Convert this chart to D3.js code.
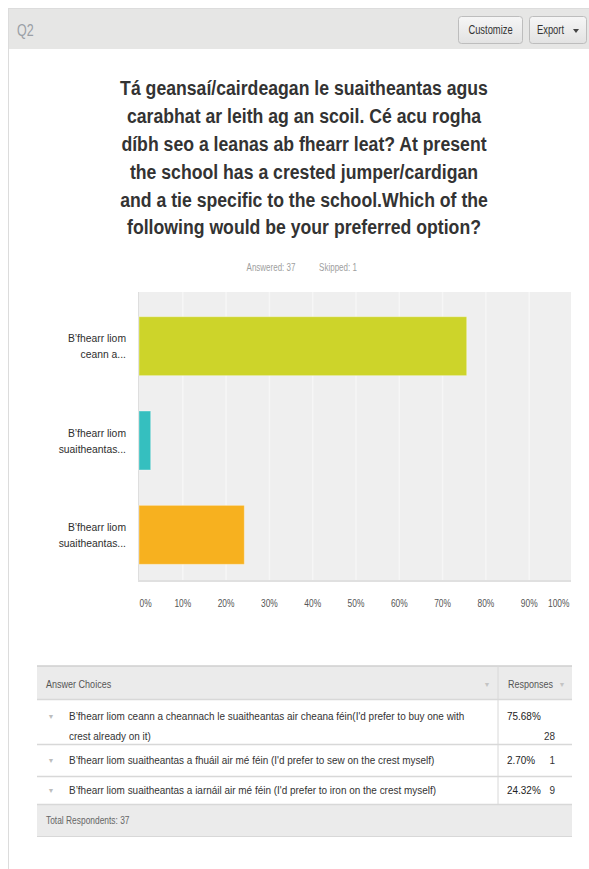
<!DOCTYPE html>
<html>
<head>
<meta charset="utf-8">
<script src="https://cdn.jsdelivr.net/npm/d3@7"></script>
<style>
body { margin: 0; background: #fff; }
text { font-family: "Liberation Sans", Arial, sans-serif; }
</style>
</head>
<body>
<div id="chart"></div>
<script>
const WIDTH = 589
const HEIGHT = 869
const SX = 0.8 // le rendu d'origine est un peu tasse en largeur

// donnees
const questionId = 'Q2'
const titleLines = [
    'Tá geansaí/cairdeagan le suaitheantas agus',
    'carabhat ar leith ag an scoil. Cé acu rogha',
    'díbh seo a leanas ab fhearr leat? At present',
    'the school has a crested jumper/cardigan',
    'and a tie specific to the school.Which of the',
    'following would be your preferred option?'
]
const answered = 37
const skipped = 1
const shortLabels = [
    ['B’fhearr liom', 'ceann a...'],
    ['B’fhearr liom', 'suaitheantas...'],
    ['B’fhearr liom', 'suaitheantas...']
]
const answerChoices = [
    'B’fhearr liom ceann a cheannach le suaitheantas air cheana féin(I\'d prefer to buy one with crest already on it)',
    'B’fhearr liom suaitheantas a fhuáil air mé féin (I\'d prefer to sew on the crest myself)',
    'B’fhearr liom suaitheantas a iarnáil air mé féin (I\'d prefer to iron on the crest myself)'
]
const percents = [75.68, 2.70, 24.32]
const counts = [28, 1, 9]
const tickValues = [0, 10, 20, 30, 40, 50, 60, 70, 80, 90, 100]
const totalRespondents = 37
const barColors = ['#cdd42a', '#35bfbf', '#f7b11f']

const svg = d3.select('#chart').append('svg')
    .attr('width', WIDTH).attr('height', HEIGHT)

function label(g, x, y, str, opts = {}) {
    return g.append('text')
        .attr('transform', `translate(${x},${y}) scale(${opts.sx || SX},1)`)
        .attr('text-anchor', opts.anchor || 'start')
        .attr('dy', '0.35em')
        .attr('font-size', opts.size || 11)
        .attr('font-weight', opts.weight || 'normal')
        .attr('fill', opts.color || '#333')
        .text(str)
}

// cadre du panneau + entete
svg.append('rect').attr('x', 8.5).attr('y', 8.5).attr('width', WIDTH + 10).attr('height', HEIGHT)
    .attr('fill', '#fff').attr('stroke', '#dcdcdc')
svg.append('rect').attr('x', 9).attr('y', 9).attr('width', WIDTH).attr('height', 40)
    .attr('fill', '#e6e6e5')
label(svg, 17, 30, questionId, { size: 16, color: '#9a9fa6', sx: 0.78 })

const grad = svg.append('defs').append('linearGradient').attr('id', 'btn')
    .attr('x1', 0).attr('y1', 0).attr('x2', 0).attr('y2', 1)
grad.append('stop').attr('offset', 0).attr('stop-color', '#f6f6f6')
grad.append('stop').attr('offset', 1).attr('stop-color', '#e2e2e2')

const buttons = [{ x: 458.5, w: 64, t: 'Customize' }, { x: 529.5, w: 57, t: 'Export' }]
buttons.forEach(b => {
    svg.append('rect').attr('x', b.x).attr('y', 16.5).attr('width', b.w).attr('height', 27)
        .attr('rx', 3).attr('fill', 'url(#btn)').attr('stroke', '#bdbdbd')
})
label(svg, 490.5, 30, 'Customize', { size: 12, anchor: 'middle', color: '#333', sx: 0.78 })
label(svg, 537, 30, 'Export', { size: 12, color: '#333', sx: 0.78 })
svg.append('path').attr('d', 'M573,29 l6,0 l-3,4 z').attr('fill', '#444')

// titre
const title = svg.append('g')
const probe = title.append('text').attr('font-size', 21).attr('font-weight', 'bold').text(titleLines[0])
const titleSx = 368 / probe.node().getComputedTextLength()
probe.remove()
titleLines.forEach((l, i) => {
    label(title, 304, 88 + i * 27.8, l, { size: 21, weight: 'bold', anchor: 'middle', color: '#333', sx: titleSx })
})
label(svg, 271, 267, `Answered: ${answered}`, { size: 10, anchor: 'middle', color: '#9e9e9e' })
label(svg, 338, 267, `Skipped: ${skipped}`, { size: 10, anchor: 'middle', color: '#9e9e9e' })

// graphique
const PLOT_LEFT = 139
const PLOT_RIGHT = 572
const PLOT_TOP = 292
const PLOT_BOTTOM = 582

const xScale = d3.scaleLinear().domain([0, 100]).range([PLOT_LEFT, PLOT_RIGHT])
const yScale = d3.scaleBand().domain(d3.range(percents.length))
    .range([299, PLOT_BOTTOM]).paddingInner(0.375).paddingOuter(0.1875)

svg.append('rect').attr('x', PLOT_LEFT - 1).attr('y', PLOT_TOP)
    .attr('width', PLOT_RIGHT - PLOT_LEFT).attr('height', PLOT_BOTTOM - PLOT_TOP)
    .attr('fill', '#efefef')

const grid = svg.append('g').attr('transform', `translate(0,${PLOT_BOTTOM})`)
    .call(d3.axisBottom(xScale).tickValues(tickValues.slice(1, -1))
        .tickSize(-(PLOT_BOTTOM - PLOT_TOP)).tickFormat(''))
grid.select('.domain').remove()
grid.selectAll('line').attr('stroke', '#f6f6f6').attr('stroke-width', 1.5)

svg.append('line').attr('x1', PLOT_LEFT - 0.5).attr('x2', PLOT_LEFT - 0.5)
    .attr('y1', PLOT_TOP).attr('y2', PLOT_BOTTOM).attr('stroke', '#dedede')
svg.append('line').attr('x1', PLOT_LEFT - 1).attr('x2', PLOT_RIGHT - 1)
    .attr('y1', PLOT_BOTTOM - 1).attr('y2', PLOT_BOTTOM - 1).attr('stroke', '#e0e0e0').attr('stroke-width', 2)

svg.append('g').selectAll('rect')
    .data(percents)
    .enter()
    .append('rect')
    .attr('x', xScale(0))
    .attr('y', (d, i) => yScale(i))
    .attr('width', d => xScale(d) - xScale(0))
    .attr('height', yScale.bandwidth())
    .attr('fill', (d, i) => barColors[i])
    .attr('stroke', 'rgba(255,255,255,0.35)')

const ylab = svg.append('g')
shortLabels.forEach((lines, i) => {
    const c = yScale(i) + yScale.bandwidth() / 2
    lines.forEach((l, j) => label(ylab, 126, c - 8 + j * 16, l, { size: 11.5, anchor: 'end', color: '#2e2e2e', sx: 0.9 }))
})

const axisX = svg.append('g').attr('transform', `translate(0,${PLOT_BOTTOM + 15})`)
    .call(d3.axisBottom(xScale).tickValues(tickValues).tickSize(0).tickFormat(d => `${d}%`))
axisX.select('.domain').remove()
axisX.selectAll('text')
    .attr('font-size', 10.5).attr('fill', '#555')
    .attr('font-family', '"Liberation Sans", Arial, sans-serif')
    .attr('transform', `scale(${SX},1)`)
    .attr('text-anchor', (d, i) => i === 0 ? 'start' : (i === tickValues.length - 1 ? 'end' : 'middle'))
    .attr('x', (d, i) => i === tickValues.length - 1 ? -3 / SX : 0)

// tableau
const T_LEFT = 37
const T_RIGHT = 572
const T_DIV = 498
const rowsY = [699, 744, 776, 804]
const table = svg.append('g')

table.append('rect').attr('x', T_LEFT).attr('y', 666).attr('width', T_RIGHT - T_LEFT).attr('height', 33)
    .attr('fill', '#ebebeb')
table.append('line').attr('x1', T_LEFT).attr('x2', T_RIGHT).attr('y1', 666).attr('y2', 666)
    .attr('stroke', '#cfcfcf').attr('stroke-width', 1.5)
table.append('rect').attr('x', T_LEFT).attr('y', 804).attr('width', T_RIGHT - T_LEFT).attr('height', 32)
    .attr('fill', '#ebebeb')
rowsY.forEach(y => {
    table.append('line').attr('x1', T_LEFT).attr('x2', T_RIGHT).attr('y1', y + 0.5).attr('y2', y + 0.5)
        .attr('stroke', '#d8d8d8').attr('stroke-width', 1.5)
})
table.append('line').attr('x1', T_LEFT).attr('x2', T_RIGHT).attr('y1', 836.5).attr('y2', 836.5).attr('stroke', '#d8d8d8')
table.append('line').attr('x1', T_DIV).attr('x2', T_DIV).attr('y1', 666).attr('y2', 804).attr('stroke', '#d8d8d8')

label(table, 46, 684, 'Answer Choices', { size: 10.5, color: '#555', sx: 0.86 })
label(table, 508, 684, 'Responses', { size: 10.5, color: '#555', sx: 0.86 })
label(table, 487, 685, '▼', { size: 7, anchor: 'middle', color: '#c4c4c4', sx: 1 })
label(table, 562, 685, '▼', { size: 7, anchor: 'middle', color: '#c4c4c4', sx: 1 })

// largeur du texte des lignes
const probe2 = table.append('text').attr('font-size', 10).text(answerChoices[1])
const rowSx = 366 / probe2.node().getComputedTextLength()
probe2.remove()

function wrap(str, maxW) {
    const words = str.split(' ')
    const out = []
    let cur = ''
    const p = table.append('text').attr('font-size', 10)
    words.forEach(w => {
        const test = cur ? cur + ' ' + w : w
        p.text(test)
        if (p.node().getComputedTextLength() * rowSx > maxW && cur) {
            out.push(cur)
            cur = w
        } else cur = test
    })
    out.push(cur)
    p.remove()
    return out
}

answerChoices.forEach((a, i) => {
    const lines = wrap(a, 405)
    const top = rowsY[i]
    const firstY = lines.length > 1 ? top + 17 : (rowsY[i] + rowsY[i + 1]) / 2
    label(table, 51, firstY + 1, '▼', { size: 7, anchor: 'middle', color: '#bdbdbd', sx: 1 })
    lines.forEach((l, j) => label(table, 69, firstY + j * 20, l, { size: 10, color: '#333', sx: rowSx }))
    label(table, 507, firstY, `${percents[i].toFixed(2)}%`, { size: 10, color: '#222', sx: rowSx })
    label(table, 555, lines.length > 1 ? firstY + 20 : firstY, counts[i], { size: 10, anchor: 'end', color: '#333', sx: rowSx })
})

label(table, 46, 820, `Total Respondents: ${totalRespondents}`, { size: 10.5, color: '#666' })
</script>
</body>
</html>
